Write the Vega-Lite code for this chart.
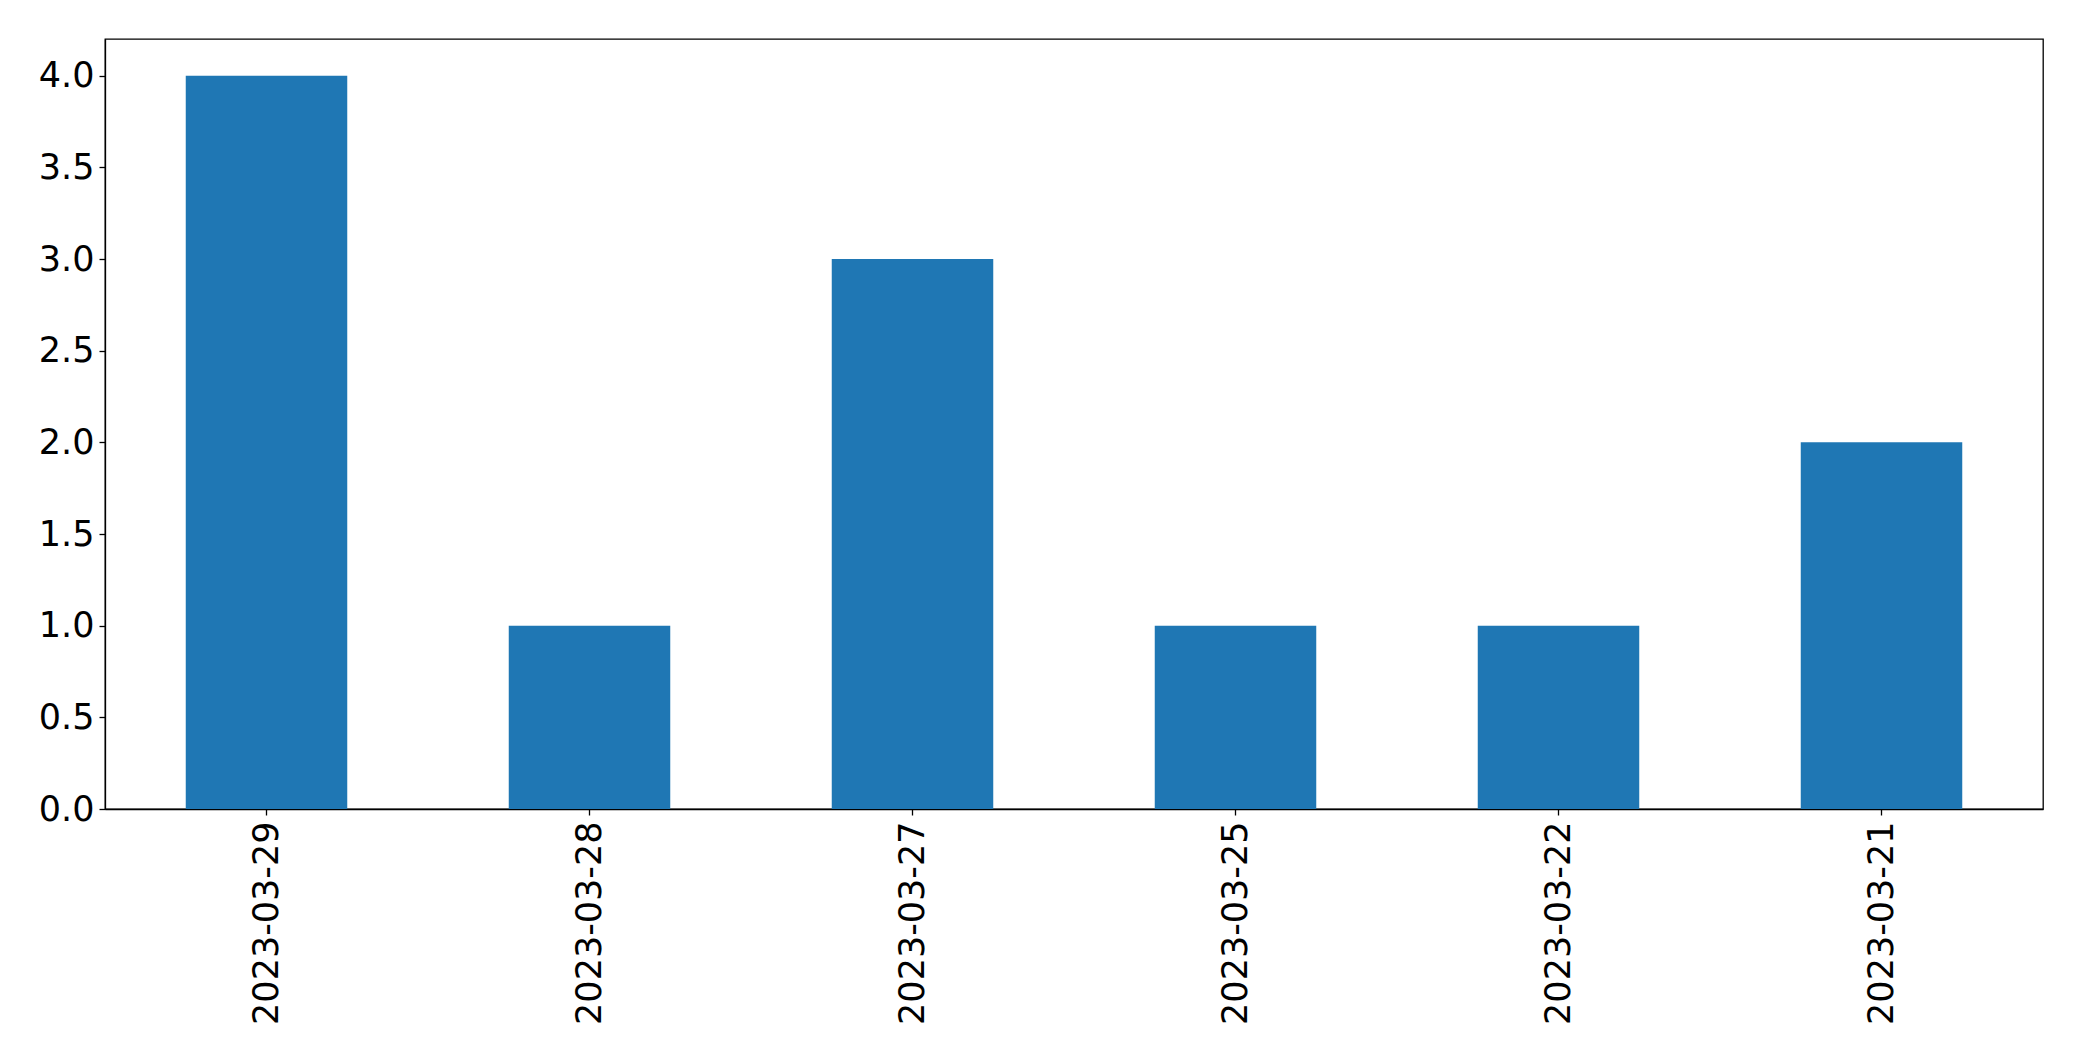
{
  "$schema": "https://vega.github.io/schema/vega-lite/v6.json",
  "width": 1938,
  "height": 770,
  "autosize": "none",
  "padding": {"left": 105, "top": 39, "right": 39, "bottom": 252},
  "background": "white",
  "config": {
    "view": {"stroke": "black", "strokeWidth": 1.3}
  },
  "data": {
    "values": [
      {"date": "2023-03-29", "count": 4},
      {"date": "2023-03-28", "count": 1},
      {"date": "2023-03-27", "count": 3},
      {"date": "2023-03-25", "count": 1},
      {"date": "2023-03-22", "count": 1},
      {"date": "2023-03-21", "count": 2}
    ]
  },
  "mark": {"type": "bar", "color": "#1f77b4"},
  "encoding": {
    "x": {
      "field": "date",
      "type": "nominal",
      "sort": null,
      "title": null,
      "scale": {"paddingInner": 0.5, "paddingOuter": 0.25},
      "axis": {
        "labelAngle": 270, "labelPadding": 6, "labelAlign": "right", "labelBaseline": "middle",
        "labelFont": "DejaVu Sans", "labelFontSize": 35, "labelColor": "black", "labelLimit": 0,
        "domainColor": "black", "tickColor": "black", "domainWidth": 1.3, "tickWidth": 1.3, "tickSize": 6, "grid": false
      }
    },
    "y": {
      "field": "count",
      "type": "quantitative",
      "title": null,
      "scale": {"domain": [0, 4.2], "nice": false},
      "axis": {
        "values": [0, 0.5, 1, 1.5, 2, 2.5, 3, 3.5, 4], "format": ".1f", "labelPadding": 5,
        "labelFont": "DejaVu Sans", "labelFontSize": 35, "labelColor": "black", "labelLimit": 0,
        "domainColor": "black", "tickColor": "black", "domainWidth": 1.3, "tickWidth": 1.3, "tickSize": 6, "grid": false
      }
    }
  }
}
